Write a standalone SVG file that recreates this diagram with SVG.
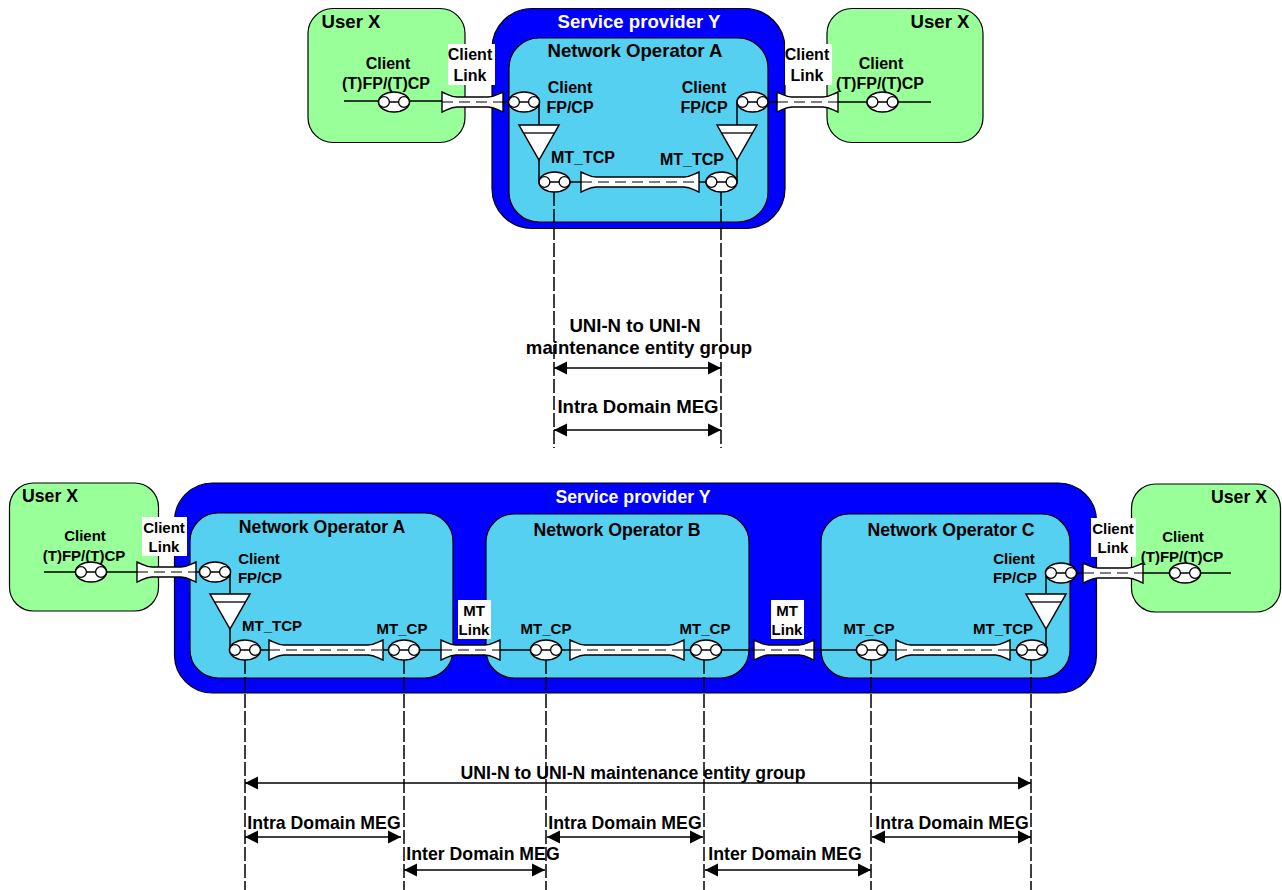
<svg xmlns="http://www.w3.org/2000/svg" width="1282" height="890" viewBox="0 0 1282 890">
<style>
text{font-family:"Liberation Sans",Arial,sans-serif;font-weight:bold;fill:#000;text-anchor:middle}
.s{font-size:16px}.m{font-size:18.600px}.bs{font-size:15px}.bm{font-size:17.700px}.w{fill:#fff}
.user{fill:#99ff99;stroke:#000;stroke-width:1.2}
.sp{fill:#0000ff;stroke:#000;stroke-width:1.2}
.op{fill:#55d0f0;stroke:#000;stroke-width:1.2}
.lab{fill:#fff}
.ln{fill:none;stroke:#000;stroke-width:1.5}
.trumpet{fill:#fff;stroke:#000;stroke-width:1.4}
.dash{fill:none;stroke:#000;stroke-width:1.2;stroke-dasharray:11 6}
.vd{fill:none;stroke:#000;stroke-width:1.5;stroke-dasharray:14 3}
.arr{fill:none;stroke:#000;stroke-width:1.5;marker-start:url(#ah);marker-end:url(#ah)}
</style>
<defs>
<marker id="ah" markerUnits="userSpaceOnUse" markerWidth="14" markerHeight="14" refX="13" refY="7" orient="auto-start-reverse"><path d="M0 0.5L13 7L0 13.5z" fill="#000"/></marker>
<g id="port"><ellipse rx="15.5" ry="10" fill="#fff" stroke="#000" stroke-width="1.6"/><path d="M-10 0H10" stroke="#000" stroke-width="1.5"/><circle cx="-10" r="5.400" fill="#fff" stroke="#000" stroke-width="1.3"/><circle cx="10" r="5.400" fill="#fff" stroke="#000" stroke-width="1.3"/></g>
<g id="tri"><path d="M-20 0H20L0 35z" fill="#fff" stroke="#000" stroke-width="1.5"/><path d="M-16 8H16" stroke="#000" stroke-width="1.3"/></g>
</defs>

<g id="user-x-top-left"><rect class="user" x="308" y="8.500" width="157" height="134" rx="25"/><text class="m" x="351" y="28">User X</text><text class="s" x="388" y="69">Client</text><text class="s" x="386" y="89">(T)FP/(T)CP</text></g>
<g id="service-y-top"><rect class="sp" x="492" y="8.500" width="293" height="220" rx="40"/><text class="m w" x="639" y="28">Service provider Y</text></g>
<g id="operator-a-top"><rect class="op" x="509" y="38" width="259" height="184" rx="30"/><text class="m" x="635" y="57">Network Operator A</text></g>
<g id="user-x-top-right"><rect class="user" x="827" y="8.500" width="156" height="134" rx="25"/><text class="m" x="940" y="28">User X</text><text class="s" x="881" y="69">Client</text><text class="s" x="880" y="89">(T)FP/(T)CP</text></g>

<g id="user-x-bottom-left"><rect class="user" x="9.500" y="483" width="149" height="128" rx="24"/><text class="bm" x="50" y="502">User X</text><text class="bs" x="85" y="541">Client</text><text class="bs" x="84" y="561">(T)FP/(T)CP</text></g>
<g id="service-y-bottom"><rect class="sp" x="174.500" y="483" width="922" height="210" rx="38"/><text class="bm w" x="633" y="503">Service provider Y</text></g>
<g id="operator-a-bottom"><rect class="op" x="190" y="513" width="263" height="165" rx="28"/><text class="bm" x="322" y="533">Network Operator A</text></g>
<g id="operator-b-bottom"><rect class="op" x="486" y="514" width="263" height="164" rx="28"/><text class="bm" x="617" y="536">Network Operator B</text></g>
<g id="operator-c-bottom"><rect class="op" x="821" y="514" width="249" height="164" rx="28"/><text class="bm" x="951" y="536">Network Operator C</text></g>
<g id="user-x-bottom-right"><rect class="user" x="1131.500" y="484" width="149" height="128" rx="24"/><text class="bm" x="1239" y="503">User X</text><text class="bs" x="1183" y="542">Client</text><text class="bs" x="1182" y="562">(T)FP/(T)CP</text></g>

<g id="connectors">
<path class="ln" d="M344 101H442M503 102H508"/>
<path class="ln" d="M539 102V182M737 102V182"/>
<path class="ln" d="M570 182H581M699 182H706"/>
<path class="ln" d="M768 102H777M838 102H931"/>
<path class="ln" d="M44 572H137M196 572H200"/>
<path class="ln" d="M230 572V650M1046 573V650"/>
<path class="ln" d="M260 650H269M383 650H389M419 650H441M500 650H531M561 650H570M684 650H691M721 650H754M814 650H857M887 650H896M1010 650H1017"/>
<path class="ln" d="M1076 573H1083M1143 573H1231"/>
</g>

<g id="links">
<g id="l1"><path class="trumpet" d="M442 92C449 95 451 97 457 97H488C494 97 496 95 503 92V112C496 109 494 107 488 107H457C451 107 449 109 442 112z"/><path class="dash" d="M442 102H503"/></g>
<g id="l2"><path class="trumpet" d="M581 172C588 175 590 177 596 177H684C690 177 692 175 699 172V192C692 189 690 187 684 187H596C590 187 588 189 581 192z"/><path class="dash" d="M581 182H699"/></g>
<g id="l3"><path class="trumpet" d="M777 92C784 95 786 97 792 97H823C829 97 831 95 838 92V112C831 109 829 107 823 107H792C786 107 784 109 777 112z"/><path class="dash" d="M777 102H838"/></g>
<g id="l4"><path class="trumpet" d="M137 562C144 565 146 567 152 567H181C187 567 189 565 196 562V582C189 579 187 577 181 577H152C146 577 144 579 137 582z"/><path class="dash" d="M137 572H196"/></g>
<g id="l5"><path class="trumpet" d="M269 640C276 643 278 645 284 645H368C374 645 376 643 383 640V660C376 657 374 655 368 655H284C278 655 276 657 269 660z"/><path class="dash" d="M269 650H383"/></g>
<g id="l6"><path class="trumpet" d="M441 640C448 643 450 645 456 645H485C491 645 493 643 500 640V660C493 657 491 655 485 655H456C450 655 448 657 441 660z"/><path class="dash" d="M441 650H500"/></g>
<g id="l7"><path class="trumpet" d="M570 640C577 643 579 645 585 645H669C675 645 677 643 684 640V660C677 657 675 655 669 655H585C579 655 577 657 570 660z"/><path class="dash" d="M570 650H684"/></g>
<g id="l8"><path class="trumpet" d="M754 640C761 643 763 645 769 645H799C805 645 807 643 814 640V660C807 657 805 655 799 655H769C763 655 761 657 754 660z"/><path class="dash" d="M754 650H814"/></g>
<g id="l9"><path class="trumpet" d="M896 640C903 643 905 645 911 645H995C1001 645 1003 643 1010 640V660C1003 657 1001 655 995 655H911C905 655 903 657 896 660z"/><path class="dash" d="M896 650H1010"/></g>
<g id="l10"><path class="trumpet" d="M1083 563C1090 566 1092 568 1098 568H1128C1134 568 1136 566 1143 563V583C1136 580 1134 578 1128 578H1098C1092 578 1090 580 1083 583z"/><path class="dash" d="M1083 573H1143"/></g>
</g>

<g id="link-labels">
<g id="label-client-link-1"><rect class="lab" x="448" y="44" width="47" height="41"/><text class="s" x="470" y="60">Client</text><text class="s" x="470" y="81">Link</text></g>
<g id="label-client-link-2"><rect class="lab" x="785" y="44" width="47" height="41"/><text class="s" x="807" y="60">Client</text><text class="s" x="807" y="81">Link</text></g>
<g id="label-client-link-3"><rect class="lab" x="142" y="517" width="45" height="39"/><text class="bs" x="164" y="533">Client</text><text class="bs" x="164" y="552">Link</text></g>
<g id="label-client-link-4"><rect class="lab" x="1091" y="518" width="45" height="39"/><text class="bs" x="1113" y="534">Client</text><text class="bs" x="1113" y="553">Link</text></g>
<g id="label-mt-link-1"><rect class="lab" x="458" y="600" width="33" height="39"/><text class="bs" x="474" y="616">MT</text><text class="bs" x="474" y="635">Link</text></g>
<g id="label-mt-link-2"><rect class="lab" x="771" y="600" width="33" height="39"/><text class="bs" x="787" y="616">MT</text><text class="bs" x="787" y="635">Link</text></g>
</g>

<g id="triangles"><use href="#tri" x="539" y="125"/><use href="#tri" x="737" y="125"/><use href="#tri" x="230" y="594"/><use href="#tri" x="1046" y="594"/></g>

<g id="ports">
<use id="p1" href="#port" x="394" y="102"/><use id="p2" href="#port" x="524" y="102"/><use id="p3" href="#port" x="554.500" y="182"/><use id="p4" href="#port" x="721.500" y="182"/><use id="p5" href="#port" x="752.500" y="102"/><use id="p6" href="#port" x="882.500" y="102"/>
<use id="p7" href="#port" x="91" y="572"/><use id="p8" href="#port" x="215" y="572"/><use id="p9" href="#port" x="245" y="650"/><use id="p10" href="#port" x="404" y="650"/><use id="p11" href="#port" x="546" y="650"/><use id="p12" href="#port" x="706" y="650"/><use id="p13" href="#port" x="872" y="650"/><use id="p14" href="#port" x="1032" y="650"/><use id="p15" href="#port" x="1061" y="573"/><use id="p16" href="#port" x="1185" y="573"/>
</g>

<g id="port-labels">
<text class="s" x="570" y="93">Client</text><text class="s" x="570" y="113">FP/CP</text>
<text class="s" x="704" y="93">Client</text><text class="s" x="704" y="113">FP/CP</text>
<text class="s" x="583" y="163">MT_TCP</text><text class="s" x="692" y="165">MT_TCP</text>
<text class="bs" x="259" y="564">Client</text><text class="bs" x="260" y="583">FP/CP</text>
<text class="bs" x="272" y="631">MT_TCP</text><text class="bs" x="402" y="634">MT_CP</text><text class="bs" x="546" y="634">MT_CP</text><text class="bs" x="705" y="634">MT_CP</text><text class="bs" x="869" y="634">MT_CP</text><text class="bs" x="1003" y="634">MT_TCP</text>
<text class="bs" x="1014" y="564">Client</text><text class="bs" x="1015" y="583">FP/CP</text>
</g>

<g id="meg-lines">
<path class="vd" d="M554 192V448M721 192V448M245 660V890M404 660V890M546 660V890M704 660V890M871 660V890M1031 660V890"/>
<path class="arr" d="M554 368H721"/><path class="arr" d="M554 430H721"/>
<path class="arr" d="M245 783H1031"/>
<path class="arr" d="M245 837H401"/><path class="arr" d="M547 837H703"/><path class="arr" d="M872 837H1031"/>
<path class="arr" d="M404 870H545"/><path class="arr" d="M705 870H871"/>
</g>
<g id="meg-labels">
<text class="m" x="635" y="332">UNI-N to UNI-N</text><text class="m" x="639" y="354">maintenance entity group</text>
<text class="m" x="638" y="413">Intra Domain MEG</text>
<text class="bm" x="633" y="779">UNI-N to UNI-N maintenance entity group</text>
<text class="bm" x="324" y="829">Intra Domain MEG</text><text class="bm" x="625" y="829">Intra Domain MEG</text><text class="bm" x="952" y="829">Intra Domain MEG</text>
<text class="bm" x="483" y="860">Inter Domain MEG</text><text class="bm" x="785" y="860">Inter Domain MEG</text>
</g>
</svg>
